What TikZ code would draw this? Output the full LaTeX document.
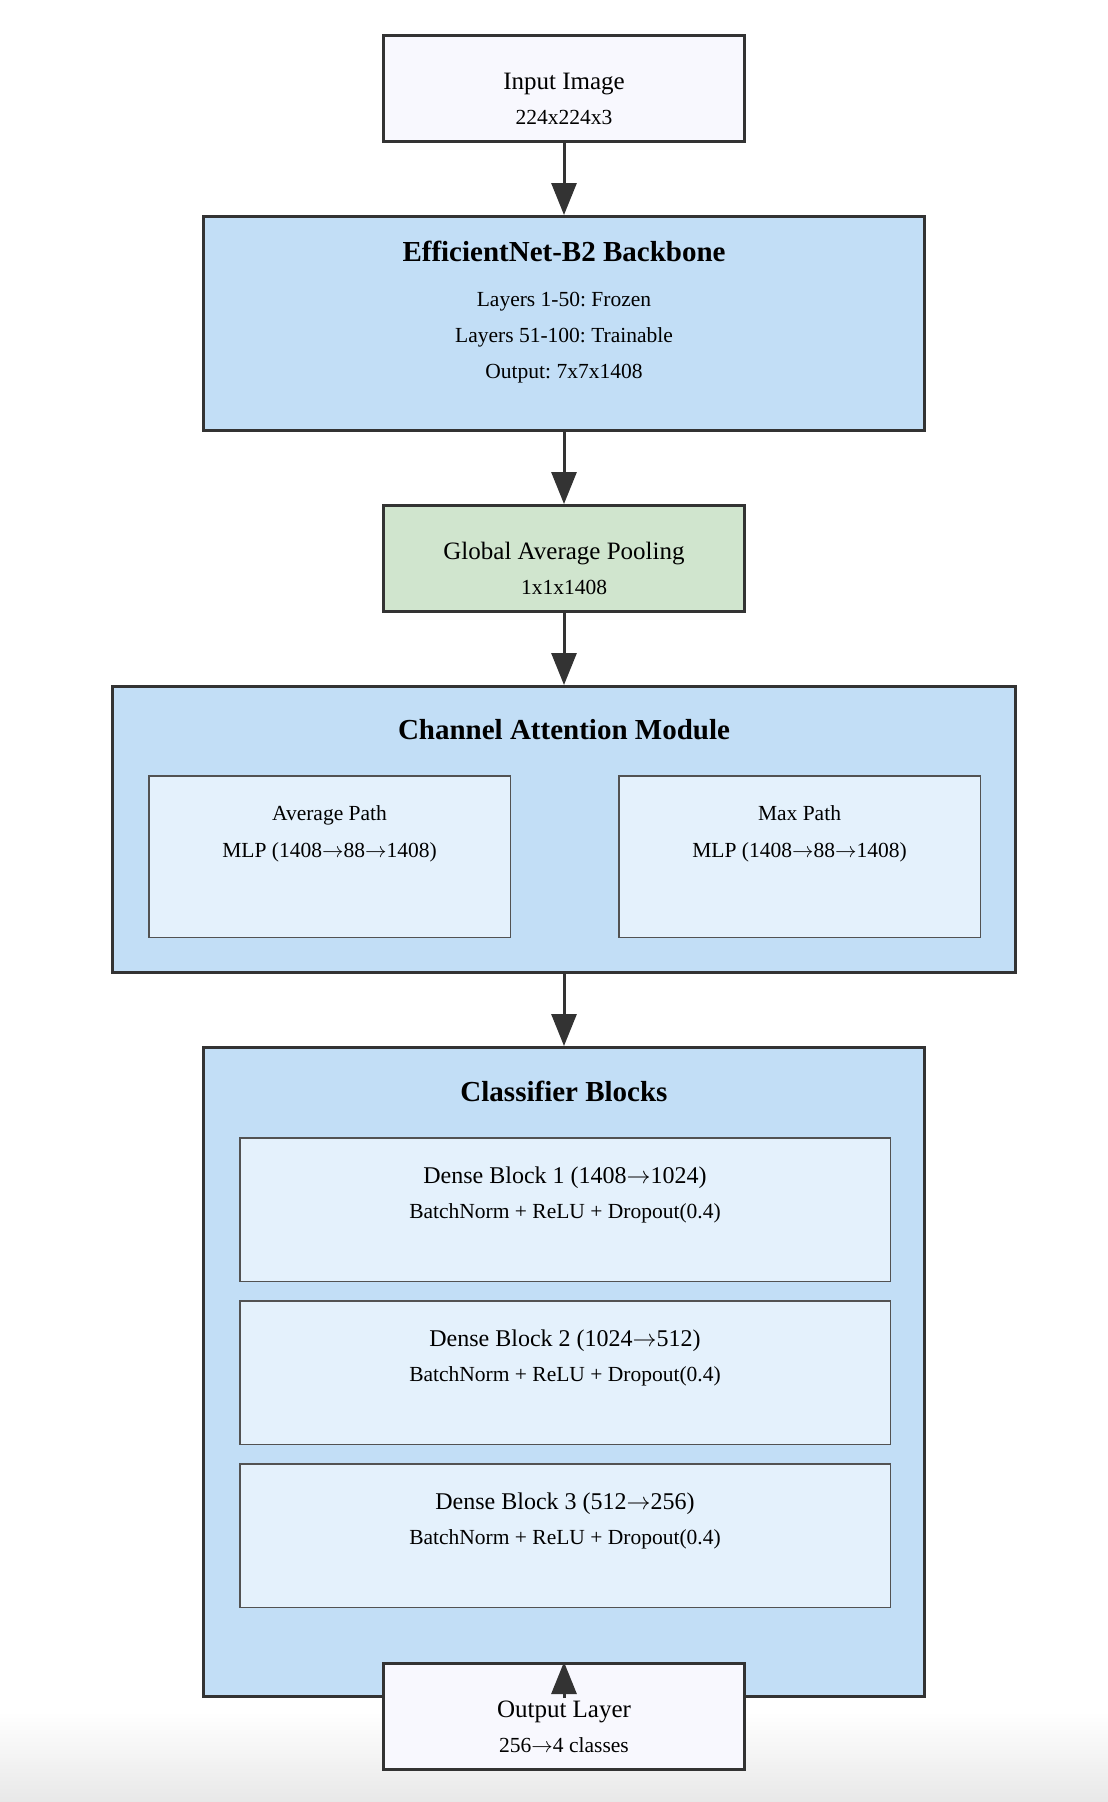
\RequirePackage{fix-cm}
\documentclass[tikz,border=0pt]{standalone}
\usepackage{fontspec}
\setmainfont{Liberation Serif}
\usetikzlibrary{positioning,arrows.meta}
\usepackage{xcolor}
\definecolor{edgegray}{HTML}{333333}
\definecolor{ioface}{HTML}{F8F8FE}
\definecolor{stageblue}{HTML}{C2DEF6}
\definecolor{poolgreen}{HTML}{D0E5CE}
\definecolor{innerblue}{HTML}{E4F1FC}
\newcommand{\toarr}{\ensuremath{\rightarrow}}
\frenchspacing

\begin{document}
\begin{tikzpicture}[node distance=72pt,
    iobox/.style={draw=edgegray, line width=3pt, fill=ioface, minimum width=361pt, minimum height=106pt},
    bigbox/.style={draw=edgegray, line width=3pt, fill=stageblue},
    subbox/.style={draw=edgegray!85, line width=1.5pt, fill=innerblue},
    ttl/.style={anchor=base, font=\fontsize{25}{30}\selectfont},
    blk/.style={anchor=base, font=\fontsize{24}{29}\selectfont},
    hdr/.style={anchor=base, font=\fontsize{29}{34}\selectfont\bfseries},
    txt/.style={anchor=base, font=\fontsize{21.5}{26}\selectfont},
    arr/.style={-{Triangle[length=32pt,width=25pt]}, line width=3pt, draw=edgegray}]
    \useasboundingbox (0,0) rectangle (1108pt,-1802pt);
    \shade[top color=white, bottom color=black!9] (0,-1712pt) rectangle (1108pt,-1802pt);

    \node[iobox] (inp) at (564pt,-88.5pt) {};
    \node[bigbox, minimum width=721pt, minimum height=214pt, below=of inp] (bb) {};
    \node[iobox, fill=poolgreen, below=of bb] (gap) {};
    \node[bigbox, minimum width=903pt, minimum height=286pt, below=of gap] (cam) {};
    \node[bigbox, minimum width=721pt, minimum height=649pt, below=of cam] (cls) {};

    \node[subbox, minimum width=361.5pt, minimum height=161.5pt, below right=90pt and 37pt of cam.north west] (avg) {};
    \node[subbox, minimum width=361.5pt, minimum height=161.5pt, below left=90pt and 36pt of cam.north east] (max) {};
    \node[subbox, minimum width=650.5pt, minimum height=143.5pt, below right=91pt and 37pt of cls.north west] (d1) {};
    \node[subbox, minimum width=650.5pt, minimum height=143.5pt, below=18pt of d1] (d2) {};
    \node[subbox, minimum width=650.5pt, minimum height=143.5pt, below=18pt of d2] (d3) {};

    \node[iobox, below=-36pt of cls] (out) {};

    \node[ttl] (inpA) at ([yshift=-55pt]inp.north) {Input Image};
    \node[txt] (inpB) at ([yshift=-90pt]inp.north) {224x224x3};
    \node[hdr] (bbA) at ([yshift=-46pt]bb.north) {EfficientNet-B2 Backbone};
    \node[txt] (bbB) at ([yshift=-91pt]bb.north) {Layers 1-50: Frozen};
    \node[txt] (bbC) at ([yshift=-127pt]bb.north) {Layers 51-100: Trainable};
    \node[txt] (bbD) at ([yshift=-163pt]bb.north) {Output: 7x7x1408};
    \node[ttl] (gapA) at ([yshift=-55pt]gap.north) {Global Average Pooling};
    \node[txt] (gapB) at ([yshift=-90pt]gap.north) {1x1x1408};
    \node[hdr] (camA) at ([yshift=-54pt]cam.north) {Channel Attention Module};
    \node[txt] (avgA) at ([yshift=-45pt]avg.north) {Average Path};
    \node[txt] (avgB) at ([yshift=-82pt]avg.north) {MLP (1408\toarr88\toarr1408)};
    \node[txt] (maxA) at ([yshift=-45pt]max.north) {Max Path};
    \node[txt] (maxB) at ([yshift=-82pt]max.north) {MLP (1408\toarr88\toarr1408)};
    \node[hdr] (clsA) at ([yshift=-55pt]cls.north) {Classifier Blocks};
    \node[blk] (d1A) at ([yshift=-46pt]d1.north) {Dense Block 1 (1408\toarr1024)};
    \node[txt] (d1B) at ([yshift=-81pt]d1.north) {BatchNorm + ReLU + Dropout(0.4)};
    \node[blk] (d2A) at ([yshift=-46pt]d2.north) {Dense Block 2 (1024\toarr512)};
    \node[txt] (d2B) at ([yshift=-81pt]d2.north) {BatchNorm + ReLU + Dropout(0.4)};
    \node[blk] (d3A) at ([yshift=-46pt]d3.north) {Dense Block 3 (512\toarr256)};
    \node[txt] (d3B) at ([yshift=-81pt]d3.north) {BatchNorm + ReLU + Dropout(0.4)};
    \node[ttl] (outA) at ([yshift=-55pt]out.north) {Output Layer};
    \node[txt] (outB) at ([yshift=-90pt]out.north) {256\toarr4 classes};

    \draw[arr] (inp) -- (bb);
    \draw[arr] (bb) -- (gap);
    \draw[arr] (gap) -- (cam);
    \draw[arr] (cam) -- (cls);
    \draw[arr] (cls.south) -- (out.north);
\end{tikzpicture}
\end{document}
